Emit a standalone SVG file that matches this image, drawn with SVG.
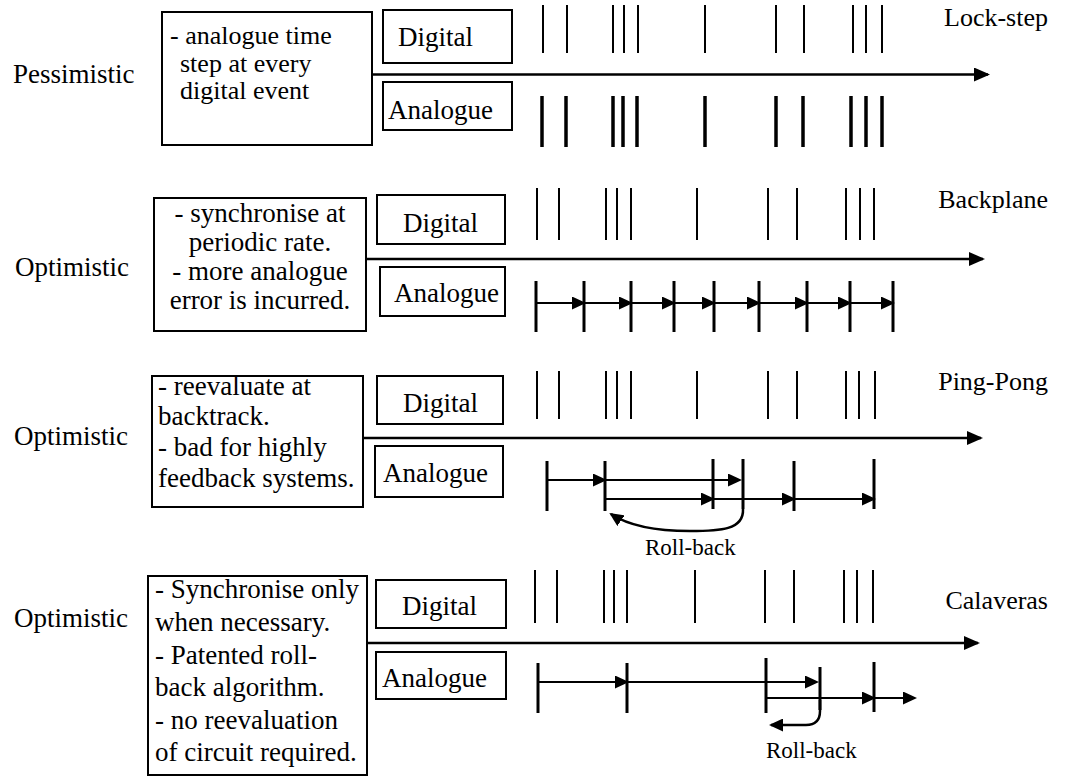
<svg xmlns="http://www.w3.org/2000/svg" width="1068" height="777" viewBox="0 0 1068 777">
<style>
.t{font-family:"Liberation Serif","Times New Roman","DejaVu Serif",serif;font-size:27px;fill:#000}
.n1{font-size:26px}
.nm{font-size:26px;text-anchor:end}
.rb{font-size:23px}
.box{fill:#fff;stroke:#000;stroke-width:2}
.axis{stroke:#000;stroke-width:2.5;fill:none;marker-end:url(#big)}
.step{stroke:#000;stroke-width:2;fill:none;marker-end:url(#small)}
.roll{stroke:#000;stroke-width:2.5;fill:none;marker-end:url(#small)}
.dt{stroke:#000;stroke-width:2}
.at{stroke:#000;stroke-width:3.5}
.at2{stroke:#000;stroke-width:3}
</style>
<defs>
<marker id="big" markerWidth="18" markerHeight="14" refX="14" refY="7" orient="auto" markerUnits="userSpaceOnUse"><path d="M0,0 L16,7 L0,14 z" fill="#000"/></marker>
<marker id="small" markerWidth="15" markerHeight="13" refX="12" refY="6.5" orient="auto" markerUnits="userSpaceOnUse"><path d="M0,0 L14,6.5 L0,13 z" fill="#000"/></marker>
</defs>

<!-- Panel 1: Lock-step -->
<g id="p1-label"><text class="t" x="13" y="83">Pessimistic</text></g>
<g id="p1-note"><rect class="box" x="162" y="12" width="210" height="133"/>
<text class="t n1" x="170" y="44">- analogue time</text>
<text class="t n1" x="180" y="71.5">step at every</text>
<text class="t n1" x="180" y="99">digital event</text></g>
<g id="p1-digital"><rect class="box" x="383" y="10" width="129" height="53"/><text class="t" x="398" y="46">Digital</text></g>
<g id="p1-analogue"><rect class="box" x="383" y="82" width="129" height="48"/><text class="t" x="388" y="119">Analogue</text></g>
<g id="p1-name"><text class="t nm" x="1048" y="26">Lock-step</text></g>
<g id="p1-dticks" class="dt">
<line x1="543" y1="5" x2="543" y2="53"/><line x1="567" y1="5" x2="567" y2="53"/><line x1="613" y1="5" x2="613" y2="53"/><line x1="624" y1="5" x2="624" y2="53"/><line x1="638" y1="5" x2="638" y2="53"/><line x1="705" y1="5" x2="705" y2="53"/><line x1="776" y1="5" x2="776" y2="53"/><line x1="804" y1="5" x2="804" y2="53"/><line x1="853" y1="5" x2="853" y2="53"/><line x1="866" y1="5" x2="866" y2="53"/><line x1="882" y1="5" x2="882" y2="53"/>
</g>
<g id="p1-aticks" class="at">
<line x1="542" y1="96" x2="542" y2="147"/><line x1="566" y1="96" x2="566" y2="147"/><line x1="613" y1="96" x2="613" y2="147"/><line x1="623" y1="96" x2="623" y2="147"/><line x1="637" y1="96" x2="637" y2="147"/><line x1="705" y1="96" x2="705" y2="147"/><line x1="776" y1="96" x2="776" y2="147"/><line x1="803" y1="96" x2="803" y2="147"/><line x1="851" y1="96" x2="851" y2="147"/><line x1="866" y1="96" x2="866" y2="147"/><line x1="882" y1="96" x2="882" y2="147"/>
</g>

<!-- Panel 2: Backplane -->
<g id="p2-label"><text class="t" x="15" y="276">Optimistic</text></g>
<g id="p2-note"><rect class="box" x="154" y="198" width="212" height="133"/>
<text class="t" x="260" y="222" text-anchor="middle">- synchronise at</text>
<text class="t" x="260" y="251" text-anchor="middle">periodic rate.</text>
<text class="t" x="260" y="280" text-anchor="middle">- more analogue</text>
<text class="t" x="260" y="309" text-anchor="middle">error is incurred.</text></g>
<g id="p2-digital"><rect class="box" x="377" y="195" width="128" height="49"/><text class="t" x="403" y="232">Digital</text></g>
<g id="p2-analogue"><rect class="box" x="380" y="267" width="125" height="49"/><text class="t" x="394" y="302">Analogue</text></g>
<g id="p2-name"><text class="t nm" x="1048" y="208">Backplane</text></g>
<g id="p2-dticks" class="dt">
<line x1="537" y1="188" x2="537" y2="240"/><line x1="559" y1="188" x2="559" y2="240"/><line x1="606" y1="188" x2="606" y2="240"/><line x1="617" y1="188" x2="617" y2="240"/><line x1="631" y1="188" x2="631" y2="240"/><line x1="697" y1="188" x2="697" y2="240"/><line x1="768" y1="188" x2="768" y2="240"/><line x1="797" y1="188" x2="797" y2="240"/><line x1="846" y1="188" x2="846" y2="240"/><line x1="860" y1="188" x2="860" y2="240"/><line x1="874" y1="188" x2="874" y2="240"/>
</g>
<g id="p2-aticks" class="at2">
<line x1="536" y1="281" x2="536" y2="332"/><line x1="584" y1="281" x2="584" y2="332"/><line x1="631" y1="281" x2="631" y2="332"/><line x1="674" y1="281" x2="674" y2="332"/><line x1="714" y1="281" x2="714" y2="332"/><line x1="759" y1="281" x2="759" y2="332"/><line x1="807" y1="281" x2="807" y2="332"/><line x1="850" y1="281" x2="850" y2="332"/><line x1="893" y1="281" x2="893" y2="332"/>
</g>

<!-- Panel 3: Ping-Pong -->
<g id="p3-label"><text class="t" x="14" y="445">Optimistic</text></g>
<g id="p3-note"><rect class="box" x="152" y="376" width="211" height="131"/>
<text class="t" x="158" y="395">- reevaluate at</text>
<text class="t" x="158" y="425">backtrack.</text>
<text class="t" x="158" y="456">- bad for highly</text>
<text class="t" x="158" y="487">feedback systems.</text></g>
<g id="p3-digital"><rect class="box" x="377" y="376" width="126" height="48"/><text class="t" x="403" y="412">Digital</text></g>
<g id="p3-analogue"><rect class="box" x="375" y="446" width="128" height="51"/><text class="t" x="383" y="482">Analogue</text></g>
<g id="p3-name"><text class="t nm" x="1048" y="390">Ping-Pong</text></g>
<g id="p3-dticks" class="dt">
<line x1="537" y1="371" x2="537" y2="419"/><line x1="559" y1="371" x2="559" y2="419"/><line x1="606" y1="371" x2="606" y2="419"/><line x1="617" y1="371" x2="617" y2="419"/><line x1="631" y1="371" x2="631" y2="419"/><line x1="697" y1="371" x2="697" y2="419"/><line x1="768" y1="371" x2="768" y2="419"/><line x1="797" y1="371" x2="797" y2="419"/><line x1="846" y1="371" x2="846" y2="419"/><line x1="859" y1="371" x2="859" y2="419"/><line x1="875" y1="371" x2="875" y2="419"/>
</g>
<g id="p3-aticks" class="at2">
<line x1="547" y1="461" x2="547" y2="511"/><line x1="605" y1="461" x2="605" y2="511"/><line x1="713" y1="459" x2="713" y2="509"/><line x1="743" y1="459" x2="743" y2="509"/><line x1="794" y1="461" x2="794" y2="511"/><line x1="874" y1="459" x2="874" y2="509"/>
</g>
<g id="p3-rollback-label"><text class="t rb" x="645" y="555">Roll-back</text></g>

<!-- Panel 4: Calaveras -->
<g id="p4-label"><text class="t" x="14" y="627">Optimistic</text></g>
<g id="p4-note"><rect class="box" x="148" y="576" width="219" height="199"/>
<text class="t" x="155" y="598">- Synchronise only</text>
<text class="t" x="155" y="631">when necessary.</text>
<text class="t" x="155" y="664">- Patented roll-</text>
<text class="t" x="155" y="696">back algorithm.</text>
<text class="t" x="155" y="729">- no reevaluation</text>
<text class="t" x="155" y="761">of circuit required.</text></g>
<g id="p4-digital"><rect class="box" x="376" y="580" width="130" height="48"/><text class="t" x="402" y="615">Digital</text></g>
<g id="p4-analogue"><rect class="box" x="376" y="652" width="130" height="47"/><text class="t" x="382" y="687">Analogue</text></g>
<g id="p4-name"><text class="t nm" x="1048" y="609">Calaveras</text></g>
<g id="p4-dticks" class="dt">
<line x1="535" y1="570" x2="535" y2="623"/><line x1="557" y1="570" x2="557" y2="623"/><line x1="604" y1="570" x2="604" y2="623"/><line x1="614" y1="570" x2="614" y2="623"/><line x1="627" y1="570" x2="627" y2="623"/><line x1="695" y1="570" x2="695" y2="623"/><line x1="765" y1="570" x2="765" y2="623"/><line x1="794" y1="570" x2="794" y2="623"/><line x1="844" y1="570" x2="844" y2="623"/><line x1="857" y1="570" x2="857" y2="623"/><line x1="873" y1="570" x2="873" y2="623"/>
</g>
<g id="p4-aticks" class="at2">
<line x1="538" y1="663" x2="538" y2="713"/><line x1="627" y1="663" x2="627" y2="713"/><line x1="766" y1="658" x2="766" y2="713"/><line x1="820" y1="667" x2="820" y2="710"/><line x1="874" y1="662" x2="874" y2="712"/>
</g>
<g id="p4-rollback-label"><text class="t rb" x="766" y="758">Roll-back</text></g>

<!-- Connectors -->
<g id="connectors">
<line class="axis" x1="372" y1="74.5" x2="988" y2="74.5"/>
<line class="axis" x1="366" y1="259" x2="983" y2="259"/>
<line class="axis" x1="363" y1="438" x2="981" y2="438"/>
<line class="axis" x1="367" y1="643" x2="978" y2="643"/>

<line class="step" x1="536" y1="303" x2="584" y2="303"/>
<line class="step" x1="584" y1="303" x2="631" y2="303"/>
<line class="step" x1="631" y1="303" x2="674" y2="303"/>
<line class="step" x1="674" y1="303" x2="714" y2="303"/>
<line class="step" x1="714" y1="303" x2="759" y2="303"/>
<line class="step" x1="759" y1="303" x2="807" y2="303"/>
<line class="step" x1="807" y1="303" x2="850" y2="303"/>
<line class="step" x1="850" y1="303" x2="893" y2="303"/>

<line class="step" x1="547" y1="480" x2="605" y2="480"/>
<line class="step" x1="605" y1="480" x2="740" y2="480"/>
<line class="step" x1="605" y1="499" x2="713" y2="499"/>
<line class="step" x1="713" y1="499" x2="794" y2="499"/>
<line class="step" x1="794" y1="499" x2="874" y2="499"/>
<path class="roll" d="M743,509 C744,530 720,531 690,531 C662,531 632,528 611,514"/>

<line class="step" x1="538" y1="682" x2="627" y2="682"/>
<line class="step" x1="627" y1="682" x2="817" y2="682"/>
<line class="step" x1="766" y1="698" x2="874" y2="698"/>
<line class="step" x1="874" y1="698" x2="915" y2="698"/>
<path class="roll" d="M820,700 L820,711 Q820,725 806,725 L771,725"/>
</g>
</svg>
